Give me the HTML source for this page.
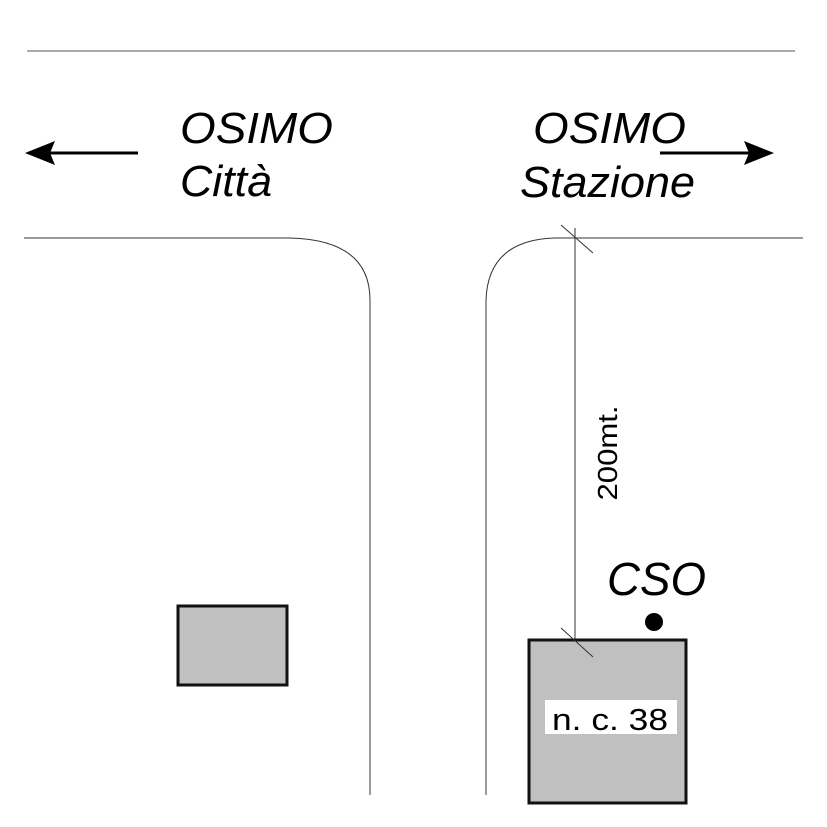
<!DOCTYPE html>
<html><head><style>body{margin:0;background:#fff}svg{display:block}</style></head><body>
<svg width="827" height="827" viewBox="0 0 827 827" xmlns="http://www.w3.org/2000/svg" font-family="Liberation Sans, sans-serif">
<rect width="827" height="827" fill="#fff"/>
<line x1="27" y1="51" x2="795" y2="51" stroke="#555" stroke-width="1"/>
<line x1="50" y1="153" x2="138" y2="153" stroke="#000" stroke-width="3"/>
<polygon points="25,153 55,141 50,153 55,165" fill="#000"/>
<line x1="660" y1="153" x2="750" y2="153" stroke="#000" stroke-width="3"/>
<polygon points="774,153 744,141 749,153 744,165" fill="#000"/>
<text x="180" y="143" font-size="44" font-style="italic" textLength="153" lengthAdjust="spacingAndGlyphs">OSIMO</text>
<text x="180" y="196" font-size="44" font-style="italic" textLength="92" lengthAdjust="spacingAndGlyphs">Città</text>
<text x="533" y="143" font-size="44" font-style="italic" textLength="153" lengthAdjust="spacingAndGlyphs">OSIMO</text>
<text x="520" y="197" font-size="44" font-style="italic" textLength="175" lengthAdjust="spacingAndGlyphs">Stazione</text>
<path d="M24 238 H290 Q370 240 370 300 V795" fill="none" stroke="#333" stroke-width="1"/>
<path d="M803 238 H555 Q488 240 486 300 V795" fill="none" stroke="#333" stroke-width="1"/>
<line x1="575" y1="228" x2="575" y2="640" stroke="#333" stroke-width="1"/>
<line x1="561" y1="225" x2="593" y2="253" stroke="#333" stroke-width="1"/>
<rect x="178" y="606" width="109" height="79" fill="#c0c0c0" stroke="#111" stroke-width="3"/>
<rect x="529" y="640" width="157" height="163" fill="#c0c0c0" stroke="#111" stroke-width="3"/>
<line x1="561" y1="628" x2="593" y2="657" stroke="#333" stroke-width="1"/>
<rect x="545" y="700" width="132" height="34" fill="#fff"/>
<text x="552" y="730" font-size="31" textLength="116" lengthAdjust="spacingAndGlyphs">n. c. 38</text>
<text transform="translate(617,453) rotate(-90)" text-anchor="middle" font-size="28" textLength="95" lengthAdjust="spacingAndGlyphs">200mt.</text>
<text x="607" y="595" font-size="46" font-style="italic" textLength="99" lengthAdjust="spacingAndGlyphs">CSO</text>
<circle cx="654" cy="622" r="9" fill="#000"/>
</svg>
</body></html>
